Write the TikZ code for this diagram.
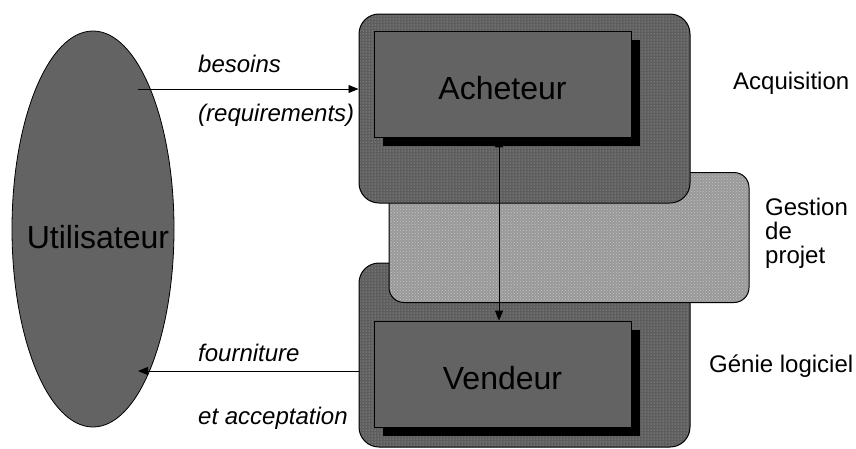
\documentclass[tikz,border=0pt]{standalone}
\usepackage{fontspec}
\setmainfont{Liberation Sans}
\usetikzlibrary{shapes.geometric,arrows.meta,patterns,shadows}
\definecolor{innerfill}{HTML}{636363}
\definecolor{outerfill}{HTML}{5E5E5E}
\definecolor{dotcol}{HTML}{B8B8B8}
\definecolor{midfill}{HTML}{999999}
\definecolor{middot}{HTML}{C4C4C4}
\tikzset{
  domainbox/.style={draw=black, line width=1pt, rounded corners=20pt,
    preaction={fill=outerfill}, pattern=dots, pattern color=dotcol,
    minimum width=331pt, inner sep=0pt},
  pmbox/.style={draw=black, line width=1pt, rounded corners=15pt,
    preaction={fill=midfill}, pattern=crosshatch dots, pattern color=middot,
    minimum width=360pt, minimum height=130pt, inner sep=0pt},
  rolebox/.style={draw=black, line width=0.8pt, fill=innerfill,
    minimum width=257pt, minimum height=106pt, inner sep=0pt,
    font=\fontsize{32}{36}\selectfont, text height=30pt, text depth=0pt,
    drop shadow={shadow xshift=9pt, shadow yshift=-9pt, fill=black, opacity=1}},
  userell/.style={ellipse, draw=black, line width=0.8pt, fill=innerfill,
    minimum width=162pt, minimum height=396pt, inner sep=0pt},
  bigtext/.style={font=\fontsize{32}{36}\selectfont, inner sep=0pt},
  lab/.style={font=\fontsize{24}{26}\selectfont, inner sep=0pt},
  flowlab/.style={font=\fontsize{24}{26}\selectfont\itshape, inner sep=0pt},
  conn/.style={draw=black, line width=0.9pt, -{Triangle[length=10pt,width=8pt]}},
}
\begin{document}
\begin{tikzpicture}[x=1pt,y=-1pt]
\useasboundingbox (0,0) rectangle (856,448);
% domains (back to front)
\node[domainbox, minimum height=184pt] (gl) at (524.5,355) {};
\node[pmbox] (gp) at (569,237.5) {};
\node[domainbox, minimum height=189pt] (acq) at (524.5,108.5) {};
% roles
\node[rolebox] (ach) at (502.5,84) {Acheteur};
\node[rolebox] (ven) at (502.5,374) {Vendeur};
% user
\node[userell] (u) at (93,229) {};
\node[bigtext, anchor=base] (ut) at (98,248) {Utilisateur};
% connectors
\coordinate (b0) at (138,89);
\coordinate (f0) at (138,371);
\draw[conn] (b0) -- (b0 -| acq.west);
\draw[conn] (f0 -| gl.west) -- (f0);
\draw[conn, {Triangle[length=10pt,width=8pt]}-{Triangle[length=10pt,width=8pt]}]
  ([xshift=-3.5pt]ach.south) -- ([xshift=-3.5pt]ven.north);
% flow labels
\node[flowlab, anchor=base west] (t1) at (198,72) {besoins};
\node[flowlab, anchor=base west] (t2) at (198,121) {(requirements)};
\node[flowlab, anchor=base west] (t3) at (198,361) {fourniture};
\node[flowlab, anchor=base west] (t4) at (198,424) {et acceptation};
% domain labels
\node[lab, anchor=base west] (l1) at (733,89) {Acquisition};
\node[lab, anchor=base west] (l2a) at (765,215) {Gestion};
\node[lab, anchor=base west] (l2b) at (765,239) {de};
\node[lab, anchor=base west] (l2c) at (765,263) {projet};
\node[lab, anchor=base west] (l3) at (709,372) {Génie logiciel};
\end{tikzpicture}
\end{document}
